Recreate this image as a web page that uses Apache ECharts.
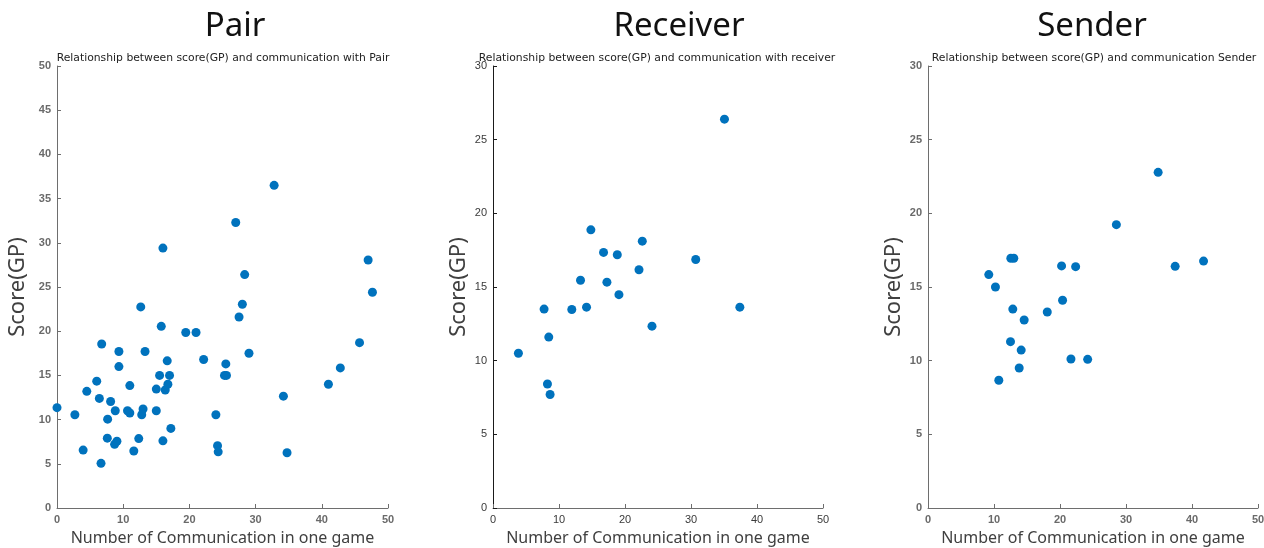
<!DOCTYPE html>
<html>
<head>
<meta charset="utf-8">
<style>
  html, body { margin: 0; padding: 0; background: #ffffff; }
  #chart { width: 1264px; height: 548px; }
</style>
<script src="https://cdn.jsdelivr.net/npm/echarts@6/dist/echarts.min.js"></script>
</head>
<body>
<div id="chart"></div>
<script>
// Panel headings
const panelTitles = ['Pair', 'Receiver', 'Sender'];
const panelSubtitles = [
  'Relationship between score(GP) and communication with Pair',
  'Relationship between score(GP) and communication with receiver',
  'Relationship between score(GP) and communication Sender'
];
const xAxisName = 'Number of Communication in one game';
const yAxisName = 'Score(GP)';
const yMaxes = [50, 30, 30];

// Pair: communications per game vs score
const pairX = [32.8, 27.0, 16.0, 47.0, 28.35, 47.65, 12.65, 28.0, 27.5, 15.75, 19.45, 21.0,
  0, 2.7, 3.95, 4.5, 6.0, 6.75, 6.4, 6.65, 7.6, 7.65, 8.1, 8.8, 8.7, 9.05, 9.35, 9.35,
  11.0, 10.65, 11.0, 11.6, 12.35, 13.0, 12.8, 13.3, 15.0, 15.0, 15.5, 16.0, 16.35, 16.65,
  16.75, 17.0, 17.2, 22.15, 24.0, 24.25, 24.35, 25.3, 25.6, 25.5, 29.0, 34.2, 34.75, 41.0,
  42.8, 45.7];
const pairY = [36.5, 32.3, 29.4, 28.05, 26.4, 24.4, 22.75, 23.05, 21.6, 20.55, 19.85, 19.85,
  11.35, 10.55, 6.55, 13.2, 14.35, 18.55, 12.4, 5.05, 7.9, 10.05, 12.05, 11.0, 7.2, 7.55, 17.7, 16.0,
  13.85, 11.0, 10.75, 6.45, 7.85, 11.2, 10.55, 17.7, 13.45, 11.0, 15.0, 7.6, 13.35, 16.65,
  14.0, 15.0, 9.0, 16.8, 10.55, 7.05, 6.35, 15.0, 15.0, 16.3, 17.5, 12.65, 6.25, 14.0,
  15.85, 18.7];

// Receiver
const receiverX = [35.07, 14.83, 22.62, 16.75, 18.83, 30.72, 22.12, 13.26, 17.26, 19.08,
  7.74, 11.94, 14.17, 37.4, 24.09, 8.45, 3.85, 8.25, 8.65];
const receiverY = [26.39, 18.88, 18.11, 17.35, 17.19, 16.87, 16.17, 15.46, 15.33, 14.48,
  13.5, 13.47, 13.63, 13.63, 12.34, 11.6, 10.5, 8.42, 7.7];

// Sender
const senderX = [34.87, 28.54, 12.55, 13.0, 20.24, 22.37, 37.45, 41.75, 9.21, 10.22,
  20.39, 12.85, 18.07, 14.57, 12.5, 14.12, 21.66, 24.19, 13.82, 10.73];
const senderY = [22.78, 19.23, 16.95, 16.95, 16.43, 16.38, 16.4, 16.76, 15.84, 15.0,
  14.1, 13.5, 13.3, 12.76, 11.29, 10.72, 10.11, 10.09, 9.5, 8.67];

const seriesX = [pairX, receiverX, senderX];
const seriesY = [pairY, receiverY, senderY];

// Plot-area boxes for the three panels
const grids = [
  { left: 57, top: 66, width: 331, height: 442 },
  { left: 493, top: 66, width: 330, height: 442 },
  { left: 928, top: 66, width: 330, height: 442 }
];
const titleCenters = [235, 679, 1092];
const subtitleCenters = [223, 657, 1094];

// Per-panel axis styling
const xLineColors = ['#6e6e6e', '#6e6e6e', '#6e6e6e'];
const yLineColors = ['#6e6e6e', '#1a1a1a', '#6e6e6e'];
const tickLabelStyles = [
  { color: '#6a6a6a', fontWeight: 'bold' },
  { color: '#3a3a3a', fontWeight: 'normal' },
  { color: '#6a6a6a', fontWeight: 'bold' }
];
const yNameGaps = [28, 23, 23];
const markColor = '#0072BD';

function pairs(xs, ys) {
  return xs.map((x, i) => [x, ys[i]]);
}

const chart = echarts.init(document.getElementById('chart'), null, { renderer: 'canvas' });

const option = {
  animation: false,
  backgroundColor: '#ffffff',
  grid: grids.map(g => Object.assign({ containLabel: false, outerBoundsMode: 'none' }, g)),
  xAxis: grids.map((g, i) => ({
    type: 'value',
    gridIndex: i,
    min: 0,
    max: 50,
    interval: 10,
    name: xAxisName,
    nameLocation: 'middle',
    nameGap: 22,
    nameTextStyle: { fontFamily: 'Noto Sans', fontSize: 16, color: '#404040' },
    axisLine: { show: true, lineStyle: { color: xLineColors[i], width: 1 } },
    axisTick: { show: true, inside: true, length: 4, lineStyle: { color: xLineColors[i] } },
    axisLabel: Object.assign({ margin: 6, fontFamily: 'Liberation Sans', fontSize: 11 }, tickLabelStyles[i]),
    splitLine: { show: false }
  })),
  yAxis: grids.map((g, i) => ({
    type: 'value',
    gridIndex: i,
    min: 0,
    max: yMaxes[i],
    interval: 5,
    name: yAxisName,
    nameLocation: 'middle',
    nameRotate: 90,
    nameGap: yNameGaps[i],
    nameTextStyle: { fontFamily: 'Noto Sans', fontSize: 22, color: '#404040' },
    axisLine: { show: true, lineStyle: { color: yLineColors[i], width: 1 } },
    axisTick: { show: true, inside: true, length: 4, lineStyle: { color: yLineColors[i] } },
    axisLabel: Object.assign({ margin: 6, fontFamily: 'Liberation Sans', fontSize: 11 }, tickLabelStyles[i]),
    splitLine: { show: false }
  })),
  series: grids.map((g, i) => ({
    type: 'scatter',
    xAxisIndex: i,
    yAxisIndex: i,
    symbol: 'circle',
    symbolSize: 9,
    clip: false,
    itemStyle: { color: markColor, opacity: 1 },
    data: pairs(seriesX[i], seriesY[i])
  })),
  graphic: [].concat(
    panelTitles.map((t, i) => ({
      type: 'text',
      x: titleCenters[i],
      y: 27,
      style: {
        text: t,
        fontFamily: 'Noto Sans',
        fontSize: 33,
        fill: '#111111',
        textAlign: 'center',
        textVerticalAlign: 'middle',
        align: 'center',
        verticalAlign: 'middle'
      }
    })),
    panelSubtitles.map((t, i) => ({
      type: 'text',
      x: subtitleCenters[i],
      y: 58,
      style: {
        text: t,
        fontFamily: 'DejaVu Sans',
        fontSize: 10.8,
        fill: '#222222',
        textAlign: 'center',
        textVerticalAlign: 'middle',
        align: 'center',
        verticalAlign: 'middle'
      }
    }))
  )
};

chart.setOption(option);
</script>
</body>
</html>
